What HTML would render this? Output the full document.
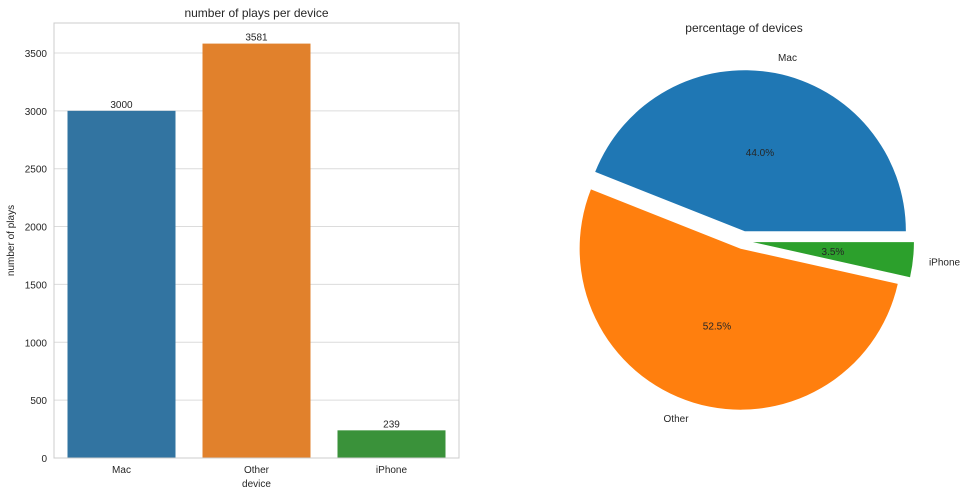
<!DOCTYPE html>
<html><head><meta charset="utf-8"><style>
body{margin:0;background:#fff;font-family:"Liberation Sans","DejaVu Sans",sans-serif;}
svg text{font-family:"Liberation Sans","DejaVu Sans",sans-serif;fill:#262626;}
</style></head><body>
<svg id="c" width="969" height="496" viewBox="0 0 969 496"></svg>
<script>
const categories = ["Mac", "Other", "iPhone"];
const plays = [3000, 3581, 239];
const yTicks = [0, 500, 1000, 1500, 2000, 2500, 3000, 3500];
const barColors = ["#3274a1", "#e1812c", "#3a923a"];
const pieLabels = ["Mac", "Other", "iPhone"];
const pieShares = [44.0, 52.5, 3.5];
const pieExplode = [0.062, 0.05, 0.062];
const pieColors = ["#1f77b4", "#ff7f0e", "#2ca02c"];

const NS = "http://www.w3.org/2000/svg";
const svg = document.getElementById("c");
function mk(tag, attrs, parent, text){
  const e = document.createElementNS(NS, tag);
  for (const k in attrs) e.setAttribute(k, attrs[k]);
  if (text !== undefined) e.textContent = text;
  (parent||svg).appendChild(e);
  return e;
}
// bar chart
const L=54, R=459, T=23, B=458, yMax=3759;
const y = v => B - v/yMax*(B-T);
const band = (R-L)/categories.length;
const x = i => L + band*i + band/2;

const grid = mk("g", {});


yTicks.forEach(t=>{
  const l = mk("line",{x1:L,x2:R,y1:y(t),y2:y(t),stroke:"#dcdcdc","stroke-width":1},grid);
  
  
  const tx = mk("text",{x:L-7,y:y(t)+4,"text-anchor":"end","font-size":10},svg,String(t));
  
  
});
categories.forEach((c,i)=>{
  const w = band*0.8;
  const r = mk("rect",{x:x(i)-w/2,y:y(plays[i]),width:w,height:B-y(plays[i]),fill:barColors[i]});
  
  
  const v = mk("text",{x:x(i),y:y(plays[i])-3,"text-anchor":"middle","font-size":10},svg,String(plays[i]));
  
  
  const tl = mk("text",{x:x(i),y:B+15,"text-anchor":"middle","font-size":10},svg,c);
  
  
});
const frame = mk("rect",{x:L,y:T,width:R-L,height:B-T,fill:"none",stroke:"#cccccc","stroke-width":1});


const t1 = mk("text",{x:(L+R)/2,y:17,"text-anchor":"middle","font-size":12},svg,"number of plays per device");


const xt = mk("text",{x:(L+R)/2,y:487,"text-anchor":"middle","font-size":10},svg,"device");


const yt = mk("text",{x:14,y:(T+B)/2,"text-anchor":"middle","font-size":10,transform:"rotate(-90 14 "+((T+B)/2)+")"},svg,"number of plays");



// pie
const cx=743, cy=241, rad=161;
let start=0;
const total = pieShares.reduce((a,b)=>a+b,0);
pieShares.forEach((s,i)=>{
  const a0 = start/total*2*Math.PI, a1 = (start+s)/total*2*Math.PI, am=(a0+a1)/2;
  start += s;
  const ox = cx + pieExplode[i]*rad*Math.cos(am), oy = cy - pieExplode[i]*rad*Math.sin(am);
  const p0=[ox+rad*Math.cos(a0), oy-rad*Math.sin(a0)], p1=[ox+rad*Math.cos(a1), oy-rad*Math.sin(a1)];
  const large = (a1-a0)>Math.PI?1:0;
  const p = mk("path",{d:`M${ox},${oy}L${p0[0]},${p0[1]}A${rad},${rad} 0 ${large} 0 ${p1[0]},${p1[1]}Z`,fill:pieColors[i]});
  
  
  const lx = ox + 1.1*rad*Math.cos(am), ly = oy - 1.1*rad*Math.sin(am);
  const lab = mk("text",{x:lx,y:ly+4,"text-anchor":Math.cos(am)>0.1?"start":(Math.cos(am)<-0.1?"end":"middle"),"font-size":10},svg,pieLabels[i]);
  
  
  const px = ox + 0.5*rad*Math.cos(am), py = oy - 0.5*rad*Math.sin(am);
  const pc = mk("text",{x:px,y:py+4,"text-anchor":"middle","font-size":10},svg,s.toFixed(1)+"%");
  
  
});
const t2 = mk("text",{x:744,y:32,"text-anchor":"middle","font-size":12},svg,"percentage of devices");


</script>
</body></html>
